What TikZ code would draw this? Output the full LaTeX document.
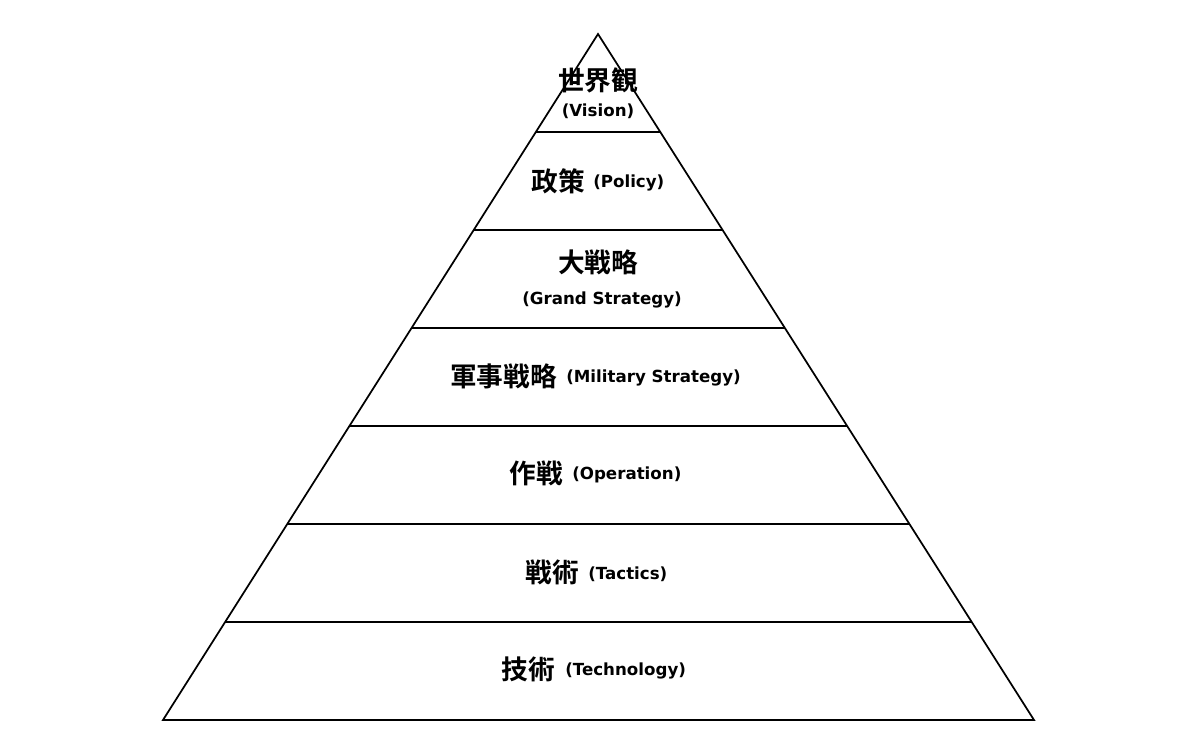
\documentclass[tikz,border=0pt]{standalone}
\usepackage{fontspec}
\setmainfont{DejaVu Sans}
\newfontfamily\cjk{Noto Sans CJK JP Bold}
\usetikzlibrary{calc}
\tikzset{
  jp/.style={inner sep=0pt,font=\cjk\fontsize{20}{22}\selectfont},
  en/.style={inner sep=0pt,font=\bfseries\fontsize{12.5}{14}\selectfont},
  edge/.style={line width=1.3pt,line join=miter}
}
\begin{document}
\begin{tikzpicture}[x=0.75pt,y=-0.75pt]
\useasboundingbox (0,0) rectangle (1200,756);
\coordinate (A) at (598,34);
\coordinate (L) at (163,720);
\coordinate (R) at (1034,720);
\draw[edge] (A) -- (L) -- (R) -- cycle;
\foreach \k in {1,...,6}{
  \draw[edge] ($(A)!\k/7!(L)$) -- ($(A)!\k/7!(R)$);
}
\node[jp] (v1) at (598,80) {世界観};
\node[en] (v2) at (598,111) {(Vision)};
\node[jp,anchor=east] (p1) at (585,181) {政策};
\node[en,anchor=west] (p2) at (593,183) {(Policy)};
\node[jp] (g1) at (598,262) {大戦略};
\node[en] (g2) at (602,300) {(Grand Strategy)};
\node[jp,anchor=east] (m1) at (557,376) {軍事戦略};
\node[en,anchor=west] (m2) at (566,378) {(Military Strategy)};
\node[jp,anchor=east] (o1) at (563,473) {作戦};
\node[en,anchor=west] (o2) at (572,475) {(Operation)};
\node[jp,anchor=east] (t1) at (579,572) {戦術};
\node[en,anchor=west] (t2) at (588,574) {(Tactics)};
\node[jp,anchor=east] (e1) at (555,669) {技術};
\node[en,anchor=west] (e2) at (565,671) {(Technology)};
\end{tikzpicture}
\end{document}
